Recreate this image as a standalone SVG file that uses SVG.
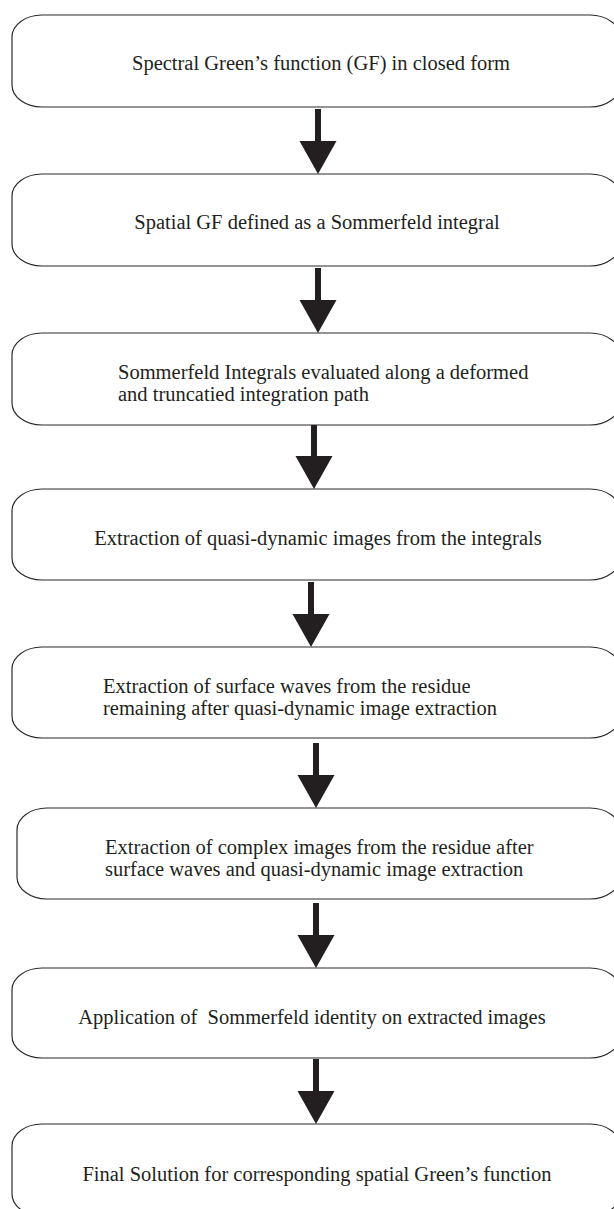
<svg xmlns="http://www.w3.org/2000/svg" width="614" height="1209" viewBox="0 0 614 1209">
  <style>
    .box { fill: #ffffff; stroke: #2b2b2b; stroke-width: 1.2; }
    .lbl { font-family: "Liberation Serif", "Times New Roman", serif; font-size: 20.5px; fill: #231f20; white-space: pre; }
    .mid { text-anchor: middle; }
    .arrow { fill: #231f20; }
  </style>
  <defs>
    <!-- block arrow pointing down, tip at (0,0) -->
    <path id="down" d="M -3 -65 L 3 -65 L 3 -33 L 18.5 -33 L 0 0 L -18.5 -33 L -3 -33 Z"/>
  </defs>
  <rect width="614" height="1209" fill="#ffffff"/>

  <g id="connectors" class="arrow">
    <use href="#down" x="318" y="174"/>
    <use href="#down" x="318" y="333"/>
    <use href="#down" x="314" y="489"/>
    <use href="#down" x="311" y="647"/>
    <use href="#down" x="316" y="808"/>
    <use href="#down" x="316" y="968"/>
    <use href="#down" x="316" y="1124"/>
  </g>

  <g id="n1">
    <rect class="box" x="12" y="15" width="608" height="92" rx="30" ry="22"/>
    <text class="lbl mid" x="321" y="70">Spectral Green’s function (GF) in closed form</text>
  </g>
  <g id="n2">
    <rect class="box" x="12" y="174" width="608" height="92" rx="30" ry="22"/>
    <text class="lbl mid" x="317" y="229">Spatial GF defined as a Sommerfeld integral</text>
  </g>
  <g id="n3">
    <rect class="box" x="12" y="333" width="608" height="92" rx="30" ry="22"/>
    <text class="lbl" x="118" y="379">Sommerfeld Integrals evaluated along a deformed</text>
    <text class="lbl" x="118" y="401">and truncatied integration path</text>
  </g>
  <g id="n4">
    <rect class="box" x="12" y="489" width="608" height="91" rx="30" ry="22"/>
    <text class="lbl mid" x="318" y="545">Extraction of quasi-dynamic images from the integrals</text>
  </g>
  <g id="n5">
    <rect class="box" x="12" y="647" width="608" height="91" rx="30" ry="22"/>
    <text class="lbl" x="103" y="693">Extraction of surface waves from the residue</text>
    <text class="lbl" x="103" y="715">remaining after quasi-dynamic image extraction</text>
  </g>
  <g id="n6">
    <rect class="box" x="17" y="808" width="603" height="91" rx="30" ry="22"/>
    <text class="lbl" x="105" y="854">Extraction of complex images from the residue after</text>
    <text class="lbl" x="105" y="876">surface waves and quasi-dynamic image extraction</text>
  </g>
  <g id="n7">
    <rect class="box" x="12" y="968" width="608" height="90" rx="30" ry="22"/>
    <text class="lbl mid" x="312" y="1024">Application of  Sommerfeld identity on extracted images</text>
  </g>
  <g id="n8">
    <rect class="box" x="12" y="1124" width="608" height="92" rx="30" ry="22"/>
    <text class="lbl mid" x="317" y="1181">Final Solution for corresponding spatial Green’s function</text>
  </g>
</svg>
